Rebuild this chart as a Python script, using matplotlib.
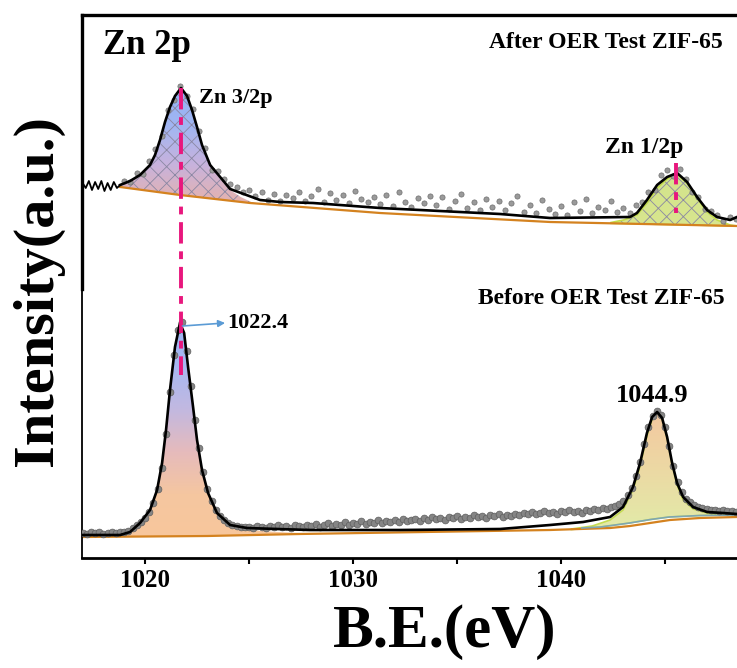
import numpy as np
import matplotlib
matplotlib.use('Agg')
import matplotlib.pyplot as plt
from matplotlib.colors import LinearSegmentedColormap

plt.rcParams['font.family'] = 'Liberation Serif'
plt.rcParams['font.weight'] = 'bold'
plt.rcParams['hatch.linewidth'] = 0.6

# ---- After OER test (upper spectrum) ----
top_noise_be = [1016.97, 1017.15, 1017.3, 1017.45, 1017.6, 1017.75, 1017.9, 1018.05,
                1018.2, 1018.35, 1018.5, 1018.65, 1018.8]
top_noise = [376, 370, 377, 368, 376, 369, 377, 367, 375, 368, 376, 370, 373]

top_fit_be = [1018.80, 1019.28, 1019.76, 1020.24, 1020.48, 1020.72, 1020.96, 1021.20,
              1021.44, 1021.73, 1022.02, 1022.26, 1022.50, 1022.74, 1023.13, 1023.61,
              1024.09, 1025.53, 1026.50, 1028.08, 1031.30, 1037.07, 1039.47, 1043.32,
              1043.65, 1044.13, 1044.62, 1045.10, 1045.58, 1046.06, 1046.54, 1047.02,
              1047.50, 1048.13, 1048.46]
top_fit = [373, 377, 383, 393, 403, 418, 436, 451, 462, 470, 462, 448, 431, 413, 393, 381,
           369, 358, 356, 355, 350, 344, 340, 341, 345, 358, 373, 381, 385, 376, 361, 348,
           341, 338, 341]

top_bg_be = [1018.80, 1021.68, 1025.05, 1031.30, 1039.47, 1048.46]
top_bg = [371, 363, 355, 345, 336, 332]

top_data_be = np.round(np.arange(1019.0, 1048.45, 0.3), 1)
top_data = [377, 376, 385, 384, 397, 409, 422, 448, 458, 472,
            462, 449, 427, 410, 388, 387, 379, 374, 371, 366,
            368, 362, 366, 358, 364, 357, 363, 360, 366, 357,
            362, 369, 356, 365, 358, 363, 355, 367, 359, 356,
            361, 354, 363, 352, 366, 356, 351, 360, 355, 362,
            353, 361, 349, 357, 364, 350, 356, 348, 359, 351,
            357, 348, 355, 362, 346, 353, 345, 358, 349, 344,
            352, 343, 356, 347, 359, 345, 351, 348, 357, 346,
            350, 345, 353, 356, 366, 368, 383, 388, 382, 389,
            379, 366, 361, 349, 347, 343, 337, 341, 339]

# Zn 2p3/2 component (after)
top_c1_be = [1018.80, 1019.28, 1019.76, 1020.24, 1020.48, 1020.72, 1020.96, 1021.20, 1021.44,
             1021.73, 1022.02, 1022.26, 1022.50, 1022.74, 1023.13, 1023.61, 1024.09, 1024.60,
             1025.10, 1025.60]
top_c1 = [372, 377, 383, 393, 403, 418, 436, 451, 462, 470, 462, 448, 431, 413, 393, 379,
          368, 361, 356, 354]
top_c1_base_be = [1018.80, 1021.68, 1025.05, 1025.60]
top_c1_base = [371, 363, 355, 354]

# Zn 2p1/2 component (after)
top_c2_be = [1042.4, 1043.0, 1043.65, 1044.13, 1044.62, 1045.10, 1045.58, 1046.06, 1046.54,
             1047.02, 1047.50, 1048.13, 1048.46]
top_c2 = [335.5, 338, 343, 355, 370, 379, 384, 375, 360, 346, 338, 333, 332]
top_c2_base_be = [1042.4, 1048.46]
top_c2_base = [334.7, 332]

# ---- Before OER test (lower spectrum) ----
bot_fit_be = [1016.97, 1018.80, 1019.28, 1019.76, 1020.24, 1020.58, 1020.82, 1021.01, 1021.20,
              1021.44, 1021.68, 1021.88, 1022.07, 1022.31, 1022.50, 1022.74, 1023.03, 1023.46,
              1024.09, 1024.90, 1026.35, 1027.93, 1032.26, 1037.07, 1039.47, 1041.06, 1042.36,
              1042.98, 1043.46, 1043.80, 1044.13, 1044.38, 1044.62, 1044.86, 1045.10, 1045.34,
              1045.58, 1045.87, 1046.35, 1047.02, 1047.79, 1048.46]
bot_fit = [23, 23, 26, 35, 48, 68, 95, 128, 168, 211, 235, 225, 191, 151, 118, 88, 65, 45,
           33, 30, 29, 28, 28, 29, 33, 36, 41, 51, 71, 95, 125, 141, 146, 140, 121, 95,
           75, 61, 51, 46, 45, 44]

bot_bg_be = [1016.97, 1023.0, 1027.45, 1039.47, 1042.36, 1043.32, 1044.28, 1045.24, 1046.68, 1048.46]
bot_bg = [21, 22, 24, 28, 30, 32, 35, 38, 40, 41]

bot_bg2_be = [1041.0, 1041.9, 1043.3, 1044.3, 1045.2, 1046.7, 1048.46]
bot_bg2 = [30, 31, 35, 38.5, 41, 42.5, 43]

bot_data_be = np.round(np.arange(1017.0, 1048.45, 0.2), 1)
bot_data = [25, 24, 26, 25, 26, 24, 25, 26, 25, 26,
            26, 27, 30, 33, 36, 40, 46, 55, 69, 90,
            124, 166, 203, 228, 236, 207, 172, 138, 110, 86,
            69, 57, 48, 42, 38, 35, 33, 32, 31, 31,
            31, 30, 32, 31, 30, 32, 31, 33, 31, 32, 30, 33, 32, 31, 33,
            32, 34, 31, 33, 35, 32, 34, 33, 36, 33, 35, 34, 37, 34, 36,
            35, 38, 35, 37, 36, 38, 36, 39, 37, 38,
            39, 37, 40, 38, 41, 39, 40, 38, 41, 40, 42, 39, 41, 40, 43,
            41, 42, 40, 43, 42, 44, 41, 43, 42, 44,
            43, 45, 44, 46, 44, 45, 47, 45, 46, 44, 47, 46, 48, 46, 47,
            45, 48, 47, 49, 48, 50, 49, 51, 52, 54,
            57, 63, 70, 82, 96, 114, 131, 142, 147, 143,
            131, 112, 92, 76, 66, 59, 56, 53, 51, 50,
            49, 48, 48, 47, 48, 47, 47, 46]

# Zn 2p3/2 component (before)
bot_c1_be = [1018.0, 1018.8, 1019.28, 1019.76, 1020.24, 1020.58, 1020.82, 1021.01, 1021.20,
             1021.44, 1021.68, 1021.88, 1022.07, 1022.31, 1022.50, 1022.74, 1023.03, 1023.46,
             1024.09, 1024.90, 1026.35, 1027.9]
bot_c1 = [22, 24, 26, 34, 47, 67, 94, 127, 167, 210, 234, 224, 190, 150, 117, 87, 64, 44,
          32, 28, 26, 24.5]
bot_c1_base_be = [1018.0, 1023.0, 1027.9]
bot_c1_base = [21.2, 22.3, 24.2]

# Zn 2p1/2 component (before)
bot_c2_be = [1040.5, 1041.5, 1042.36, 1042.98, 1043.46, 1043.80, 1044.13, 1044.38, 1044.62,
             1044.86, 1045.10, 1045.34, 1045.58, 1045.87, 1046.35, 1047.02, 1047.79, 1048.46]
bot_c2 = [29, 32, 38, 48, 68, 92, 122, 139, 145, 139, 120, 94, 73, 58, 49, 45, 43.5, 43]
bot_c2_base_be = [1040.5, 1041.9, 1043.3, 1044.3, 1045.2, 1046.7, 1048.46]
bot_c2_base = [28.5, 31, 35, 38.5, 41, 42.5, 43]

XMIN, XMAX = 1016.97, 1048.46
YMIN, YMAX = 0, 543


def grad_fill(ax, tx, ty, bx, by, colors, hatch=None, edge=None):
    xs = list(tx) + list(bx)[::-1]
    ys = list(ty) + list(by)[::-1]
    poly = ax.fill(xs, ys, facecolor='none', edgecolor='none', zorder=1)[0]
    cmap = LinearSegmentedColormap.from_list('g', colors)
    grad = np.linspace(0, 1, 256).reshape(-1, 1)
    im = ax.imshow(grad, cmap=cmap, origin='lower', aspect='auto', zorder=1,
                   extent=[min(xs), max(xs), min(ys), max(ys)])
    im.set_clip_path(poly)
    if hatch:
        ax.fill(xs, ys, facecolor='none', edgecolor='#8a87a3', hatch=hatch,
                linewidth=0, zorder=1.5)
    if edge:
        ax.fill(xs, ys, facecolor='none', edgecolor=edge, linewidth=1.2, zorder=1.6)


fig = plt.figure(figsize=(7.37, 6.68), dpi=100)
ax = fig.add_axes([82 / 737, 110 / 668, 655 / 737, 543 / 668])

# component fills
grad_fill(ax, top_c1_be, top_c1, top_c1_base_be, top_c1_base,
          ['#e6b2ac', '#c8b2dc', '#a2b6f2', '#92b2f6'], hatch='xx')
grad_fill(ax, top_c2_be, top_c2, top_c2_base_be, top_c2_base,
          ['#d8e68e', '#d3e48c'], hatch='xx', edge='#c2dc4a')
grad_fill(ax, bot_c1_be, bot_c1, bot_c1_base_be, bot_c1_base,
          ['#f8c79c', '#f5c6a0', '#e6bbbc', '#c2b8e0', '#a8b8f2', '#9fb6f4'])
grad_fill(ax, bot_c2_be, bot_c2, bot_c2_base_be, bot_c2_base,
          ['#e2eba8', '#ecd9a4', '#f4c8a0'], edge='#c5db52')

# backgrounds
ax.plot(top_bg_be, top_bg, color='#d4821f', lw=1.6, zorder=2)
ax.plot(bot_bg_be, bot_bg, color='#d4821f', lw=1.6, zorder=2)
ax.plot(bot_bg2_be, bot_bg2, color='#7fa6b3', lw=1.2, zorder=2)

# raw data
ax.scatter(top_data_be, top_data, s=14, c='#9a9a9a', edgecolors='#6e6e6e',
           linewidths=0.5, zorder=3)
ax.scatter(bot_data_be, bot_data, s=24, c='#858585', edgecolors='#5e5e5e',
           linewidths=0.5, zorder=3)

# envelopes
ax.plot(top_noise_be, top_noise, color='k', lw=1.3, zorder=4)
ax.plot(top_fit_be, top_fit, color='k', lw=1.9, zorder=4)
ax.plot(bot_fit_be, bot_fit, color='k', lw=1.9, zorder=4)

# peak guide lines
dashdot = (0, (5.5, 2, 2, 2))
ax.plot([1021.73, 1021.73], [470, 183], color='#e8177d', lw=2.8, ls=dashdot, zorder=5)
ax.plot([1045.53, 1045.53], [395, 345], color='#e8177d', lw=2.8, ls=dashdot, zorder=5)

ax.annotate('', xy=(1023.85, 235), xytext=(1021.8, 232),
            arrowprops=dict(arrowstyle='-|>', color='#5b9bd5', lw=1.2,
                            mutation_scale=10, shrinkA=0, shrinkB=0), zorder=6)

# labels
ax.text(1017.98, 513, 'Zn 2p', fontsize=25, ha='left', va='center')
ax.text(1047.79, 515, 'After OER Test ZIF-65', fontsize=17, ha='right', va='center')
ax.text(1047.88, 260, 'Before OER Test ZIF-65', fontsize=17, ha='right', va='center')
ax.text(1022.6, 460, 'Zn 3/2p', fontsize=16, ha='left', va='center')
ax.text(1043.99, 410, 'Zn 1/2p', fontsize=17, ha='center', va='center')
ax.text(1023.94, 235, '1022.4', fontsize=16, ha='left', va='center')
ax.text(1044.38, 163, '1044.9', fontsize=19, ha='center', va='center')

fig.text(38 / 737, 1 - 290 / 668, 'Intensity(a.u.)', fontsize=42, rotation=90,
         ha='center', va='center')
fig.text(445 / 737, 1 - 632 / 668, 'B.E.(eV)', fontsize=44, ha='center', va='center')

ax.set_xlim(XMIN, XMAX)
ax.set_ylim(YMIN, YMAX)
ax.set_xticks([1020, 1030, 1040])
ax.set_xticks([1025, 1035, 1045], minor=True)
ax.set_yticks([])
ax.tick_params(axis='x', which='both', direction='out', length=4, width=1.5,
               labelsize=18, pad=4)

ax.spines['right'].set_visible(False)
ax.spines['left'].set_visible(False)
ax.spines['top'].set_linewidth(2.4)
ax.spines['bottom'].set_linewidth(2.0)
ax.axvline(XMIN, ymin=269 / 543, ymax=1, color='k', lw=2.4, clip_on=False)
ax.axvline(XMIN, ymin=0, ymax=269 / 543, color='k', lw=1.3, clip_on=False)

fig.savefig('out.png', dpi=100)
